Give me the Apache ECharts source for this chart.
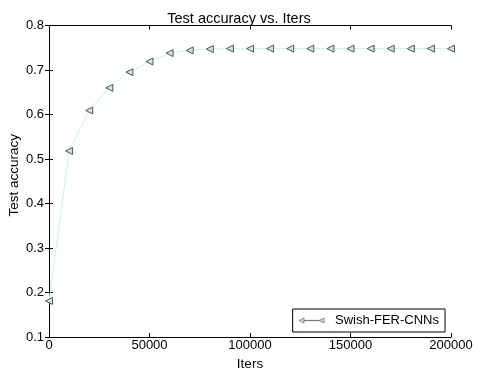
<!DOCTYPE html>
<html><head><meta charset="utf-8">
<script src="https://cdn.jsdelivr.net/npm/echarts@6/dist/echarts.min.js"></script>
<style>html,body{margin:0;padding:0;background:#fff}#c{width:478px;height:370px}</style>
</head><body><div id="c"></div>
<script>
const iters = [0,10000,20000,30000,40000,50000,60000,70000,80000,90000,100000,110000,120000,130000,140000,150000,160000,170000,180000,190000,200000];
const accuracy = [0.181,0.518,0.609,0.660,0.695,0.719,0.738,0.744,0.747,0.748,0.748,0.748,0.748,0.748,0.748,0.748,0.748,0.748,0.748,0.748,0.748];
const seriesName = 'Swish-FER-CNNs';
const xTicks = [0,50000,100000,150000,200000];
const yTicks = [0.1,0.2,0.3,0.4,0.5,0.6,0.7,0.8];

const font = 'Liberation Sans, Arial, sans-serif';
const tri = 'path://M0,5 L10,0 L10,10 Z';
const chart = echarts.init(document.getElementById('c'), null, {renderer:'canvas'});
const axLine = {show:true, lineStyle:{color:'#000', width:1}};
const tick = {show:true, inside:true, length:4, lineStyle:{color:'#000'}};
chart.setOption({
  animation:false,
  backgroundColor:'#fff',
  title:{text:'Test accuracy vs. Iters', left:'center', top:6, textStyle:{fontFamily:font, fontSize:14.5, fontWeight:'normal', color:'#000'}},
  grid:{left:49, right:27, top:25.5, bottom:33, containLabel:false, outerBoundsMode:'none'},
  legend:{
    right:33, bottom:38, orient:'horizontal',
    data:[{name:seriesName, icon:'path://M0,5 L10,0 L10,10 Z M10,4.7 L40,4.7 L40,5.3 L10,5.3 Z M40,5 L50,0 L50,10 Z'}],
    itemWidth:25, itemHeight:5, itemGap:10,
    itemStyle:{color:'#c8e8d8', borderColor:'#666', borderWidth:0.7},
    padding:[5,6,5,6],
    borderColor:'#000', borderWidth:1, borderRadius:0, backgroundColor:'#fff',
    textStyle:{fontFamily:font, fontSize:13, color:'#000', padding:[0,0,0,6]}
  },
  xAxis:[{
    type:'value', min:0, max:200000, interval:50000,
    name:'Iters', nameLocation:'middle', nameGap:20, nameMoveOverlap:false,
    nameTextStyle:{fontFamily:font, fontSize:13.5, color:'#000'},
    axisLine:axLine, axisTick:tick, splitLine:{show:false},
    axisLabel:{fontFamily:font, fontSize:13, color:'#000', margin:2, formatter:v=>String(v)}
  },{
    type:'value', position:'top', min:0, max:200000, interval:50000,
    axisLine:axLine, axisTick:tick, splitLine:{show:false}, axisLabel:{show:false}
  }],
  yAxis:[{
    type:'value', min:0.1, max:0.8, interval:0.1,
    name:'Test accuracy', nameLocation:'middle', nameGap:28, nameMoveOverlap:false,
    nameTextStyle:{fontFamily:font, fontSize:13.5, color:'#000', padding:[0,0,0,12]},
    axisLine:axLine, axisTick:tick, splitLine:{show:false},
    axisLabel:{fontFamily:font, fontSize:13, color:'#000', margin:5, formatter:v=>v.toFixed(1)}
  },{
    type:'value', position:'right', min:0.1, max:0.8, interval:0.1,
    axisLine:axLine, axisTick:tick, splitLine:{show:false}, axisLabel:{show:false}
  }],
  series:[{
    name:seriesName, type:'line',
    data:iters.map((x,i)=>[x,accuracy[i]]),
    symbol:tri, symbolSize:[7,7], showAllSymbol:true,
    lineStyle:{color:'#d4efe2', width:1},
    itemStyle:{color:'#c8e8d8', borderColor:'#555', borderWidth:1},
    clip:false
  }]
});
</script></body></html>
